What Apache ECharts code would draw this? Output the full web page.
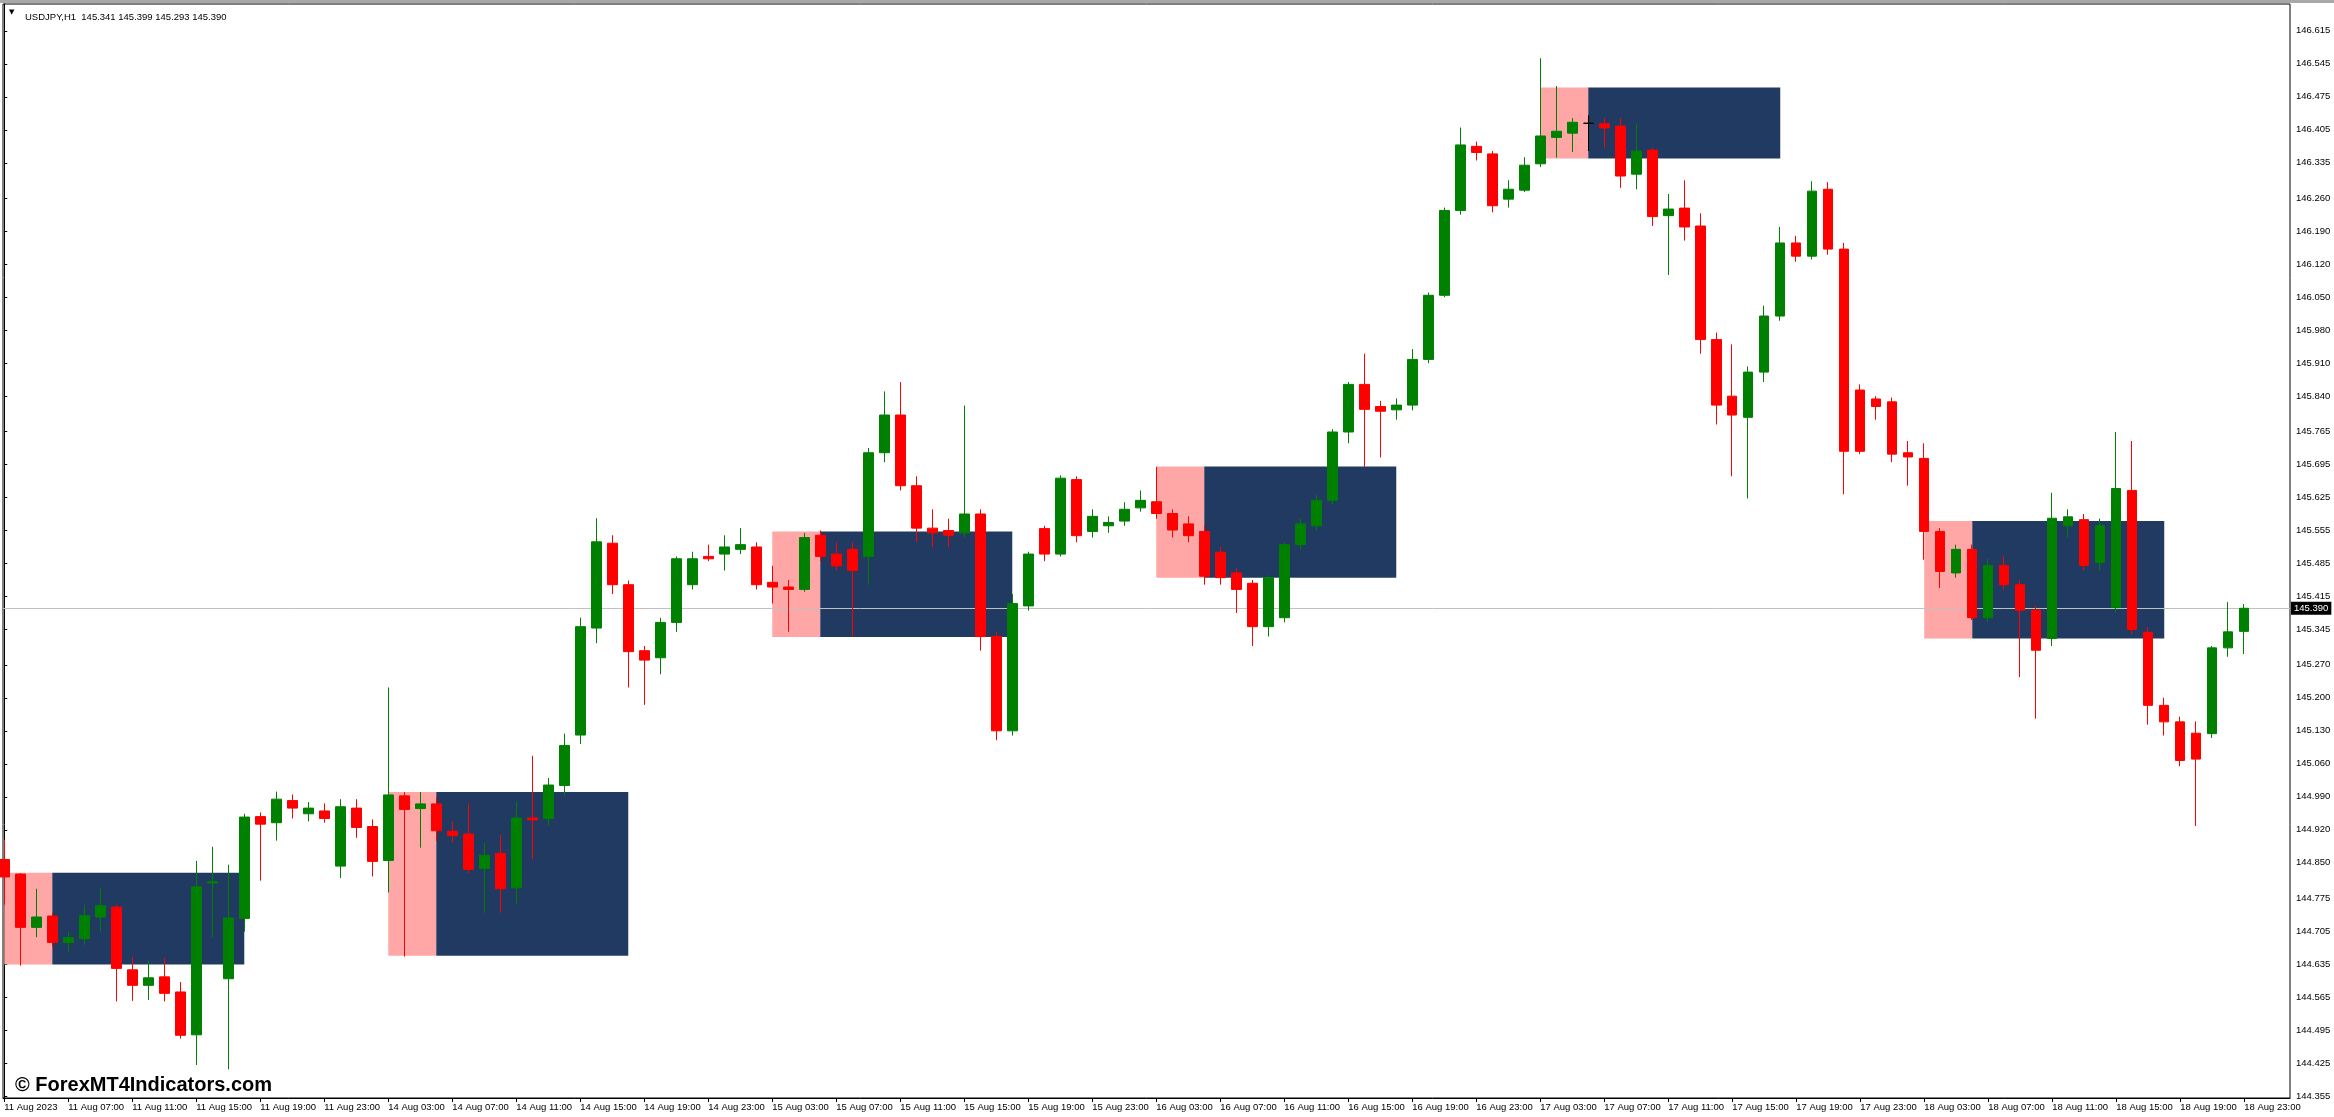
<!DOCTYPE html>
<html><head><meta charset="utf-8">
<script src="https://cdn.jsdelivr.net/npm/echarts@6/dist/echarts.min.js"></script>
<style>html,body{margin:0;padding:0;background:#fff}#chart{width:2334px;height:1117px}</style>
</head><body><div id="chart"></div>
<script>
const symbolName = 'USDJPY,H1';
const opens = [
144.857,144.826,144.713,144.737,144.681,144.689,144.735,144.756,144.623,144.590,
144.608,144.576,144.485,144.807,144.604,144.732,144.948,144.935,144.982,144.954,
144.960,144.843,144.966,144.927,144.855,144.992,144.965,144.975,144.917,144.911,
144.838,144.870,144.797,144.945,144.944,145.014,145.121,145.348,145.528,145.440,
145.300,145.285,145.360,145.440,145.500,145.505,145.515,145.520,145.445,145.435,
145.430,145.545,145.505,145.515,145.500,145.720,145.800,145.650,145.560,145.555,
145.550,145.590,145.330,145.130,145.395,145.559,145.505,145.663,145.553,145.565,
145.575,145.603,145.616,145.591,145.569,145.553,145.509,145.465,145.443,145.351,
145.370,145.525,145.565,145.619,145.764,145.865,145.818,145.811,145.821,145.918,
146.054,146.234,146.370,146.354,146.258,146.277,146.333,146.389,146.398,146.419,
146.418,146.413,146.311,146.362,146.223,146.239,146.201,145.960,145.840,145.795,
145.891,146.010,146.165,146.137,146.279,146.152,145.853,145.834,145.828,145.720,
145.708,145.553,145.465,145.515,145.370,145.481,145.440,145.386,145.326,145.565,
145.578,145.487,145.392,145.640,145.339,145.184,145.149,145.125,145.124,145.306,
145.341];
const highs = [
144.899,144.828,144.795,144.743,144.703,144.761,144.797,144.761,144.650,144.643,
144.648,144.597,144.854,144.884,144.846,144.954,144.957,145.001,144.995,144.979,
144.976,144.985,144.985,144.942,145.222,145.000,145.000,144.989,144.938,144.976,
144.892,144.909,144.979,145.077,145.030,145.124,145.370,145.581,145.545,145.449,
145.310,145.370,145.500,145.510,145.525,145.545,145.560,145.530,145.480,145.450,
145.550,145.555,145.530,145.530,145.730,145.850,145.870,145.670,145.600,145.580,
145.820,145.600,145.340,145.420,145.510,145.565,145.672,145.670,145.600,145.585,
145.615,145.640,145.690,145.600,145.585,145.565,145.520,145.475,145.450,145.460,
145.530,145.580,145.630,145.770,145.870,145.930,145.830,145.835,145.940,146.060,
146.240,146.410,146.380,146.360,146.298,146.347,146.557,146.498,146.430,146.436,
146.430,146.430,146.417,146.367,146.269,146.298,146.228,145.975,145.950,145.903,
146.032,146.199,146.180,146.296,146.294,146.165,145.865,145.840,145.837,145.745,
145.740,145.560,145.525,145.525,145.495,145.500,145.450,145.395,145.635,145.600,
145.590,145.580,145.764,145.745,145.350,145.200,145.160,145.150,145.310,145.403,
145.399];
const lows = [
144.761,144.632,144.692,144.671,144.662,144.676,144.704,144.556,144.557,144.559,
144.556,144.477,144.421,144.692,144.412,144.704,144.812,144.897,144.944,144.938,
144.935,144.818,144.903,144.821,144.787,144.651,144.882,144.896,144.893,144.828,
144.744,144.744,144.763,144.858,144.929,144.993,145.102,145.316,145.420,145.222,
145.185,145.250,145.340,145.430,145.490,145.470,145.505,145.430,145.400,145.340,
145.425,145.490,145.470,145.330,145.440,145.700,145.640,145.530,145.520,145.520,
145.540,145.300,145.110,145.120,145.385,145.490,145.500,145.530,145.540,145.550,
145.565,145.595,145.580,145.540,145.530,145.440,145.440,145.380,145.310,145.330,
145.360,145.515,145.555,145.610,145.740,145.690,145.710,145.790,145.810,145.910,
146.050,146.225,146.340,146.230,146.240,146.273,146.326,146.346,146.358,146.360,
146.367,146.282,146.279,146.201,146.097,146.170,145.930,145.780,145.670,145.623,
145.870,146.000,146.125,146.130,146.140,145.632,145.717,145.790,145.700,145.650,
145.493,145.433,145.455,145.365,145.360,145.430,145.244,145.156,145.310,145.540,
145.470,145.470,145.380,145.335,145.143,145.120,145.055,144.928,145.115,145.287,
145.293];
const closes = [
144.820,144.713,144.735,144.681,144.691,144.738,144.759,144.626,144.590,144.606,
144.573,144.484,144.799,144.810,144.733,144.947,144.932,144.985,144.966,144.966,
144.944,144.969,144.925,144.853,144.994,144.963,144.975,144.918,144.908,144.836,
144.866,144.795,144.945,144.941,145.015,145.099,145.351,145.531,145.440,145.298,
145.280,145.360,145.495,145.495,145.495,145.520,145.525,145.440,145.435,145.430,
145.540,145.500,145.480,145.470,145.720,145.800,145.650,145.560,145.550,145.545,
145.590,145.330,145.130,145.400,145.505,145.505,145.666,145.544,145.585,145.572,
145.600,145.619,145.591,145.556,145.544,145.458,145.455,145.430,145.351,145.455,
145.525,145.569,145.619,145.764,145.865,145.812,145.808,145.821,145.918,146.054,
146.234,146.373,146.357,146.244,146.279,146.330,146.392,146.402,146.421,146.419,
146.409,146.307,146.360,146.221,146.237,146.199,145.960,145.821,145.800,145.891,
146.010,146.165,146.137,146.275,146.152,145.723,145.723,145.818,145.717,145.711,
145.553,145.468,145.515,145.370,145.481,145.440,145.386,145.301,145.581,145.584,
145.481,145.565,145.644,145.345,145.184,145.149,145.067,145.070,145.306,145.340,
145.390];
const labelBars = [0,4,8,12,16,20,24,28,32,36,40,44,48,52,56,60,64,68,72,76,80,84,88,92,96,100,104,108,112,116,120,124,128,132,136,140];
const timeLabels = ['11 Aug 2023','11 Aug 07:00','11 Aug 11:00','11 Aug 15:00','11 Aug 19:00','11 Aug 23:00',
'14 Aug 03:00','14 Aug 07:00','14 Aug 11:00','14 Aug 15:00','14 Aug 19:00','14 Aug 23:00',
'15 Aug 03:00','15 Aug 07:00','15 Aug 11:00','15 Aug 15:00','15 Aug 19:00','15 Aug 23:00',
'16 Aug 03:00','16 Aug 07:00','16 Aug 11:00','16 Aug 15:00','16 Aug 19:00','16 Aug 23:00',
'17 Aug 03:00','17 Aug 07:00','17 Aug 11:00','17 Aug 15:00','17 Aug 19:00','17 Aug 23:00',
'18 Aug 03:00','18 Aug 07:00','18 Aug 11:00','18 Aug 15:00','18 Aug 19:00','18 Aug 23:00'];
const priceTicks = ['146.615','146.545','146.475','146.405','146.335','146.260','146.190','146.120','146.050','145.980',
'145.910','145.840','145.765','145.695','145.625','145.555','145.485','145.415','145.345','145.270','145.200','145.130',
'145.060','144.990','144.920','144.850','144.775','144.705','144.635','144.565','144.495','144.425','144.355'];
const lastPrice = 145.390;
const boxStart = [0,24,48,72,96,120];
const boxMid = [3,27,51,75,99,123];
const boxEnd = [15,39,63,87,111,135];
const boxTop = [144.829,145.000,145.553,145.691,146.495,145.575];
const boxBottom = [144.634,144.653,145.329,145.455,146.344,145.326];

const FONT = 'Liberation Sans';
const xMin = -0.08, xMax = 142.86;
const yMin = 144.351, yMax = 146.672;
const tickVals = priceTicks.map(Number);
const n = opens.length;
const candles = opens.map((o, i) => [i, o, closes[i], lows[i], highs[i]]);
const boxes = boxStart.map((s, i) => [s, boxMid[i], boxEnd[i], boxTop[i], boxBottom[i]]);
const header = symbolName + '  ' + [opens[n-1], highs[n-1], lows[n-1], closes[n-1]].map(v => v.toFixed(3)).join(' ');

const chart = echarts.init(document.getElementById('chart'), null, {renderer: 'canvas'});
chart.setOption({
  animation: false,
  backgroundColor: '#ffffff',
  title: [
    {text: '© ForexMT4Indicators.com', left: 10, top: 1070,
     textStyle: {fontFamily: FONT, fontSize: 20, fontWeight: 'bold', color: '#000'}},
    {text: header, left: 20, top: 7,
     textStyle: {fontFamily: FONT, fontSize: 9.5, fontWeight: 'normal', color: '#000'}}
  ],
  graphic: [
    {type: 'rect', shape: {x: 0, y: 0, width: 2334, height: 3}, style: {fill: '#a8a8a8'}, silent: true},
    {type: 'text', left: 9, top: 9, style: {text: '▼', fontSize: 7, fill: '#000', fontFamily: 'DejaVu Sans'}, silent: true}
  ],
  grid: {left: 3, right: 44, top: 4, bottom: 19, show: true, borderColor: '#000', borderWidth: 1, backgroundColor: '#fff'},
  xAxis: {
    type: 'value', min: xMin, max: xMax,
    axisLine: {show: true, lineStyle: {color: '#000', width: 1}},
    axisTick: {show: true, length: 4, customValues: labelBars, lineStyle: {color: '#000'}},
    axisLabel: {customValues: labelBars, align: 'left', margin: 4, fontSize: 9.5, color: '#000', fontFamily: FONT,
      formatter: v => timeLabels[labelBars.indexOf(Math.round(v))] || ''},
    splitLine: {show: false}
  },
  yAxis: {
    type: 'value', position: 'right', min: yMin, max: yMax,
    axisLine: {show: true, lineStyle: {color: '#000', width: 1}},
    axisTick: {show: true, length: 3, customValues: tickVals, lineStyle: {color: '#000'}},
    axisLabel: {customValues: tickVals, margin: 6, fontSize: 9.5, color: '#000', fontFamily: FONT,
      formatter: v => v.toFixed(3)},
    splitLine: {show: false}
  },
  series: [
    {
      type: 'custom', z: 1, silent: true,
      data: boxes,
      encode: {x: [0, 1, 2], y: [3, 4]},
      renderItem: (params, api) => {
        const s = api.value(0), m = api.value(1), e = api.value(2), t = api.value(3), b = api.value(4);
        const p1 = api.coord([s, t]), p2 = api.coord([m, b]), p3 = api.coord([e, b]);
        const cs = params.coordSys;
        const area = {x: cs.x, y: cs.y, width: cs.width, height: cs.height};
        const r1 = echarts.graphic.clipRectByRect({x: p1[0], y: p1[1], width: p2[0] - p1[0], height: p2[1] - p1[1]}, area);
        const r2 = echarts.graphic.clipRectByRect({x: p2[0], y: p1[1], width: p3[0] - p2[0], height: p3[1] - p1[1]}, area);
        const children = [];
        if (r1) children.push({type: 'rect', shape: r1, style: {fill: '#ffa6a6'}});
        if (r2) children.push({type: 'rect', shape: r2, style: {fill: '#203a62'}});
        return {type: 'group', children};
      },
      markLine: {
        z: 1.5, silent: true, symbol: 'none', animation: false,
        data: [{yAxis: lastPrice}],
        lineStyle: {color: '#c0c0c0', width: 1, type: 'solid'},
        label: {show: true, position: 'end', distance: 1, formatter: lastPrice.toFixed(3),
          backgroundColor: '#000', color: '#fff', fontSize: 9.5, fontFamily: FONT, padding: [2, 3, 1, 3]}
      }
    },
    {
      type: 'candlestick', z: 3, silent: true,
      data: candles,
      barWidth: 10,
      itemStyle: {color: '#008000', color0: '#ff0000', borderColor: '#008000', borderColor0: '#ff0000',
        borderColorDoji: '#000000', borderWidth: 1}
    }
  ]
});
</script></body></html>
